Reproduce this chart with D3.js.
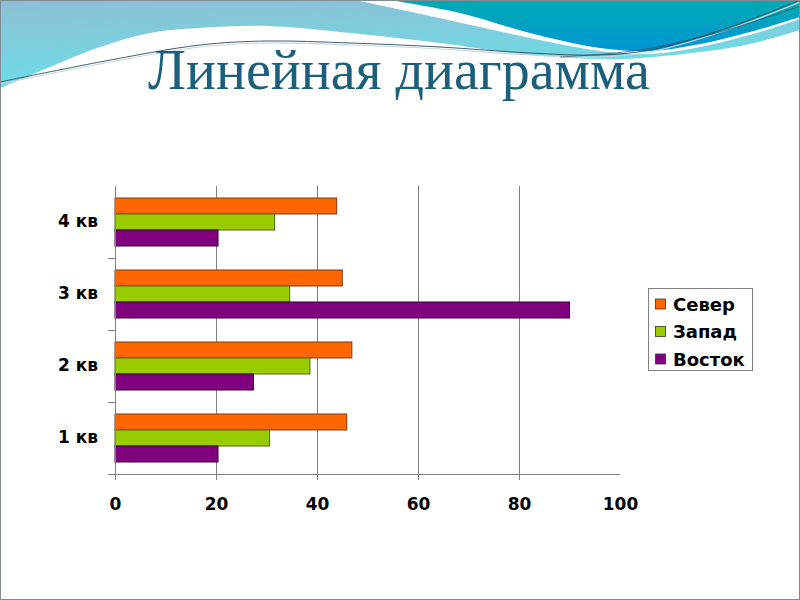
<!DOCTYPE html>
<html>
<head>
<meta charset="utf-8">
<script src="https://cdn.jsdelivr.net/npm/d3@7"></script>
<style>
html,body{margin:0;padding:0;background:#fff;}
svg{display:block;}
</style>
</head>
<body>
<svg id="chart" width="800" height="600"></svg>
<script>
// ---- data ----
const categories = ["1 кв", "2 кв", "3 кв", "4 кв"];
const seriesNames = ["Север", "Запад", "Восток"];
const north = [45.9, 46.9, 45, 43.9];
const west = [30.6, 38.6, 34.6, 31.6];
const east = [20.4, 27.4, 90, 20.4];
const xTicks = [0, 20, 40, 60, 80, 100];
const title = "Линейная диаграмма";

const seriesValues = [north, west, east];
const colors = ["#FF6600", "#99CC00", "#800080"];
const strokes = ["#7a3a10", "#4d6a10", "#3a003a"];

const svg = d3.select("#chart");
const defs = svg.append("defs");

// ---- header decoration ----
const g1 = defs.append("linearGradient").attr("id","gCyan").attr("x1","0").attr("y1","0").attr("x2","0.3").attr("y2","1");
g1.append("stop").attr("offset","0").attr("stop-color","#8ebfd3");
g1.append("stop").attr("offset","1").attr("stop-color","#6adfe9");
const g2 = defs.append("linearGradient").attr("id","gTeal").attr("x1","0").attr("y1","0").attr("x2","0").attr("y2","1");
g2.append("stop").attr("offset","0").attr("stop-color","#00abb2");
g2.append("stop").attr("offset","1").attr("stop-color","#0096d6");

const curve = d3.line().curve(d3.curveCatmullRom.alpha(0.5));

// cyan region
const cyanLower = [[800,30],[750,44],[700,52],[620,59],[530,55],[440,43],[350,33],[267,26],[200,28],[150,33],[100,47],[50,67],[0,88]];
svg.append("path")
  .attr("d", "M0,0 L800,0 " + curve(cyanLower).replace(/^M/, "L") + " Z")
  .attr("fill", "url(#gCyan)");

// white stripe
const whiteLower = [[355,0],[430,16],[530,38],[600,51],[650,54],[700,47],[760,32],[800,19]];
svg.append("path")
  .attr("d", curve(whiteLower) + " L800,0 Z")
  .attr("fill", "#ffffff");

// teal region
const tealLower = [[390,0],[460,13],[530,33],[600,48],[650,51],[700,44],[750,32],[800,17]];
svg.append("path")
  .attr("d", curve(tealLower) + " L800,0 Z")
  .attr("fill", "url(#gTeal)");

// thin lines
const thin1 = [[0,82],[100,62],[200,45],[267,41],[350,43],[440,47],[530,53],[600,55],[650,50],[730,27],[800,0]];
svg.append("path").attr("d", curve(thin1.map(p=>[p[0],p[1]+2]))).attr("fill","none").attr("stroke","#c8d6dc").attr("stroke-width",1.2);
svg.append("path").attr("d", curve(thin1)).attr("fill","none").attr("stroke","#2e4d5c").attr("stroke-width",0.9);
const thin2 = [[560,57],[640,50],[720,32],[800,6]];
svg.append("path").attr("d", curve(thin2)).attr("fill","none").attr("stroke","#2e4d5c").attr("stroke-width",0.7);

// slide border
svg.append("rect").attr("x",0.5).attr("y",0.5).attr("width",799).attr("height",599)
  .attr("fill","none").attr("stroke","#7f8c94").attr("stroke-width",1);

// title
svg.append("text")
  .attr("x", 399).attr("y", 89)
  .attr("text-anchor","middle")
  .attr("font-family","'Liberation Serif', 'Times New Roman', serif")
  .attr("font-size", 56)
  .attr("fill","#1c5f7c")
  .text(title);

// ---- chart ----
const pLeft = 115, pRight = 620, pTop = 186, pBottom = 474;
const fontFam = "'DejaVu Sans', Verdana, sans-serif";
const x = d3.scaleLinear().domain([0, 100]).range([pLeft, pRight]);
const catsTopDown = categories.slice().reverse();
const y = d3.scaleBand().domain(catsTopDown).range([pTop, pBottom]).paddingInner(0).paddingOuter(0);
const inner = d3.scaleBand().domain(seriesNames).range([0, y.bandwidth()]).paddingInner(0).paddingOuter(0.75);

const chart = svg.append("g");

// gridlines (extend below axis as ticks)
chart.append("g").selectAll("line")
  .data(xTicks.filter(t => t > 0 && t < 100))
  .join("line")
  .attr("x1", d => x(d)).attr("x2", d => x(d))
  .attr("y1", pTop).attr("y2", pBottom + 6)
  .attr("stroke", "#808080").attr("stroke-width", 1)
  .attr("shape-rendering","crispEdges");

// bars
categories.forEach((c, ci) => {
  seriesNames.forEach((s, si) => {
    chart.append("rect")
      .attr("x", x(0))
      .attr("y", y(c) + inner(s))
      .attr("width", x(seriesValues[si][ci]) - x(0))
      .attr("height", inner.bandwidth())
      .attr("fill", colors[si])
      .attr("stroke", strokes[si])
      .attr("stroke-width", 1);
  });
});

// x axis
const xAxis = d3.axisBottom(x).tickValues(xTicks).tickSize(6).tickPadding(18);
const xg = chart.append("g").attr("transform", `translate(0,${pBottom})`).call(xAxis);
xg.select(".domain").remove();
xg.append("line").attr("x1", pLeft - 7).attr("x2", pRight).attr("y1", 0).attr("y2", 0)
  .attr("stroke","#808080").attr("shape-rendering","crispEdges");
xg.selectAll(".tick line").attr("stroke","#808080").attr("shape-rendering","crispEdges");
xg.selectAll(".tick").filter(d => d === 100).select("line").remove();
xg.selectAll("text")
  .attr("font-family",fontFam)
  .attr("font-size", 17).attr("font-weight","bold").attr("fill","#000");

// y axis
const yAxis = d3.axisLeft(y).tickSize(0).tickPadding(17);
const yg = chart.append("g").attr("transform", `translate(${pLeft},0)`).call(yAxis);
yg.select(".domain").remove();
yg.append("line").attr("x1",0).attr("x2",0).attr("y1",pTop).attr("y2",pBottom + 6)
  .attr("stroke","#808080").attr("shape-rendering","crispEdges");
yg.selectAll(".sep").data(catsTopDown.slice(1)).join("line")
  .attr("x1", -7).attr("x2", 0)
  .attr("y1", d => y(d)).attr("y2", d => y(d))
  .attr("stroke","#808080").attr("shape-rendering","crispEdges");
yg.selectAll("text")
  .attr("font-family",fontFam)
  .attr("font-size", 17).attr("font-weight","bold").attr("fill","#000");

// legend
const lg = svg.append("g").attr("transform","translate(648,288)");
lg.append("rect").attr("x",0.5).attr("y",0.5).attr("width",104).attr("height",82)
  .attr("fill","#fff").attr("stroke","#808080");
seriesNames.forEach((s, i) => {
  const cy = 16.5 + i * 27.5;
  lg.append("rect").attr("x", 7.5).attr("y", cy - 5.5).attr("width", 10).attr("height", 10)
    .attr("fill", colors[i]).attr("stroke", "#333").attr("stroke-width", 0.8);
  lg.append("text").attr("x", 25).attr("y", cy).attr("dy","0.35em")
    .attr("font-family",fontFam)
    .attr("font-size", 18).attr("font-weight","bold").attr("fill","#000")
    .text(s);
});
</script>
</body>
</html>
